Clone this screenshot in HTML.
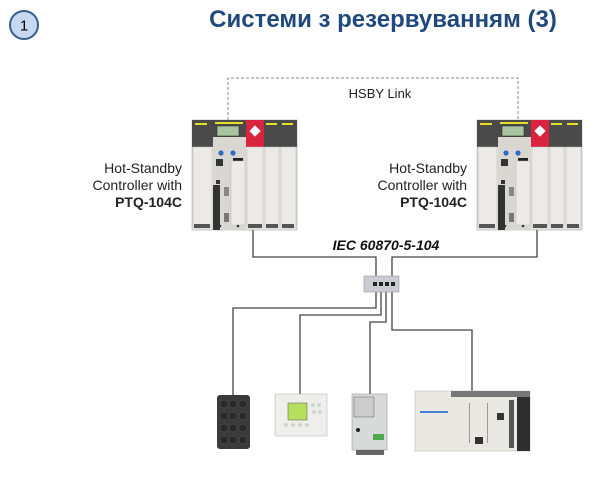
<!DOCTYPE html>
<html><head><meta charset="utf-8"><style>
html,body{margin:0;padding:0;background:#fff;width:603px;height:480px;overflow:hidden}
svg{display:block}
</style></head><body>
<svg width="603" height="480" viewBox="0 0 603 480" xmlns="http://www.w3.org/2000/svg" font-family="Liberation Sans, DejaVu Sans, sans-serif">
<defs>
<g id="ctl">
  <rect x="0" y="0" width="105" height="110" fill="#e6e4df" stroke="#aaa" stroke-width="0.6"/>
  <!-- slot1 -->
  <rect x="0" y="0" width="21" height="27" fill="#4a4a4a"/>
  <rect x="3" y="3" width="12" height="2" fill="#e4e02a"/>
  <rect x="1" y="27" width="19" height="80" fill="#eceae6" stroke="#bbb" stroke-width="0.5"/>
  <rect x="2" y="104" width="16" height="4" fill="#555"/>
  <!-- CPU slot -->
  <rect x="21" y="0" width="33" height="17" fill="#4a4a4a"/>
  <rect x="23" y="2" width="28" height="2" fill="#e4e02a"/>
  <rect x="25" y="6" width="22" height="10" fill="#a9c3a0" stroke="#333" stroke-width="0.6"/>
  <rect x="21" y="17" width="33" height="93" fill="#d9d7d2"/>
  <circle cx="29" cy="33" r="2.6" fill="#2a6cc4"/><circle cx="41" cy="33" r="2.6" fill="#2a6cc4"/>
  <rect x="24" y="39" width="7" height="7" fill="#333"/>
  <rect x="41" y="38" width="10" height="3" fill="#222"/>
  <rect x="24" y="60" width="4" height="4" fill="#333"/>
  <rect x="21" y="65" width="7" height="45" fill="#333"/>
  <rect x="32" y="67" width="5" height="9" fill="#888"/>
  <rect x="32" y="93" width="5" height="9" fill="#777"/>
  <rect x="39" y="41" width="14" height="64" fill="#ecebe7" stroke="#bbb" stroke-width="0.5"/>
  <circle cx="28" cy="106" r="1.3" fill="#333"/><circle cx="46" cy="106" r="1.3" fill="#333"/>
  <!-- red slot -->
  <rect x="54" y="0" width="18" height="27" fill="#d9233f"/>
  <rect x="59" y="7" width="8" height="8" fill="#fff" transform="rotate(45 63 11)"/>
  <rect x="55" y="27" width="16" height="80" fill="#eceae6" stroke="#bbb" stroke-width="0.5"/>
  <rect x="56" y="104" width="14" height="4" fill="#555"/>
  <!-- slot4 -->
  <rect x="72" y="0" width="16" height="27" fill="#4a4a4a"/>
  <rect x="74" y="3" width="11" height="2" fill="#e4e02a"/>
  <rect x="73" y="27" width="14" height="80" fill="#eceae6" stroke="#bbb" stroke-width="0.5"/>
  <rect x="74" y="104" width="12" height="4" fill="#555"/>
  <!-- slot5 -->
  <rect x="88" y="0" width="17" height="27" fill="#4a4a4a"/>
  <rect x="90" y="3" width="11" height="2" fill="#e4e02a"/>
  <rect x="89" y="27" width="15" height="80" fill="#eceae6" stroke="#bbb" stroke-width="0.5"/>
  <rect x="90" y="104" width="12" height="4" fill="#555"/>
</g>
</defs>

<!-- badge -->
<circle cx="24" cy="25" r="14" fill="#c6d9f1" stroke="#385d8a" stroke-width="2"/>
<text x="24" y="30.5" font-size="15" text-anchor="middle" fill="#000">1</text>
<text x="383" y="27" font-size="24" font-weight="bold" text-anchor="middle" fill="#1f497d">Системи з резервуванням (3)</text>

<!-- HSBY link -->
<path d="M228 120 V78 H518 V120" fill="none" stroke="#888" stroke-width="1" stroke-dasharray="3,2"/>
<text x="380" y="98" font-size="13" text-anchor="middle" fill="#222">HSBY Link</text>

<use href="#ctl" x="192" y="120"/>
<use href="#ctl" x="477" y="120"/>

<g font-size="14" text-anchor="end" fill="#222">
<text x="182" y="173">Hot-Standby</text>
<text x="182" y="190">Controller with</text>
<text x="182" y="207" font-weight="bold">PTQ-104C</text>
<text x="467" y="173">Hot-Standby</text>
<text x="467" y="190">Controller with</text>
<text x="467" y="207" font-weight="bold">PTQ-104C</text>
</g>

<g fill="none" stroke="#444" stroke-width="1.3">
<path d="M253 230 V257 H376 V278"/>
<path d="M392 278 V257 H537 V230"/>
<path d="M376 292 V308 H233 V396"/>
<path d="M381 292 V315 H300 V394"/>
<path d="M386 292 V322 H370 V395"/>
<path d="M392 292 V330 H472 V391"/>
</g>
<text x="386" y="250" font-size="14" font-weight="bold" font-style="italic" text-anchor="middle" fill="#111">IEC 60870-5-104</text>

<!-- switch -->
<rect x="364" y="276" width="35" height="16" fill="#c9ccd0" stroke="#999" stroke-width="0.6"/>
<g fill="#222"><rect x="373" y="282" width="4" height="4"/><rect x="379" y="282" width="4" height="4"/><rect x="385" y="282" width="4" height="4"/><rect x="391" y="282" width="4" height="4"/></g>

<!-- keypad -->
<rect x="217" y="395" width="33" height="54" rx="3" fill="#3a3a3a"/>
<g fill="#2a2a2a" stroke="#555" stroke-width="0.5">
<circle cx="224" cy="404" r="4"/><circle cx="233" cy="404" r="4"/><circle cx="243" cy="404" r="4"/>
<circle cx="224" cy="416" r="4"/><circle cx="233" cy="416" r="4"/><circle cx="243" cy="416" r="4"/>
<circle cx="224" cy="428" r="4"/><circle cx="233" cy="428" r="4"/><circle cx="243" cy="428" r="4"/>
<circle cx="224" cy="440" r="4"/><circle cx="233" cy="440" r="4"/><circle cx="243" cy="440" r="4"/>
</g>
<!-- HMI -->
<rect x="275" y="394" width="52" height="42" fill="#eeeeea" stroke="#bbb" stroke-width="0.6"/>
<rect x="288" y="403" width="19" height="17" fill="#b6df5e" stroke="#555" stroke-width="0.5"/>
<g fill="#cfd8cf"><circle cx="313" cy="405" r="2"/><circle cx="319" cy="405" r="2"/><circle cx="314" cy="412" r="2"/><circle cx="320" cy="412" r="2"/><circle cx="286" cy="425" r="2"/><circle cx="293" cy="425" r="2"/><circle cx="300" cy="425" r="2"/><circle cx="307" cy="425" r="2"/></g>
<!-- drive -->
<rect x="352" y="394" width="35" height="56" fill="#d8d9d9" stroke="#999" stroke-width="0.6"/>
<rect x="354" y="397" width="20" height="20" fill="#ccc" stroke="#666" stroke-width="0.5"/>
<circle cx="358" cy="430" r="2" fill="#222"/>
<rect x="373" y="434" width="11" height="6" fill="#4fa84f"/>
<rect x="356" y="450" width="28" height="5" fill="#666"/>
<!-- PLC -->
<rect x="415" y="391" width="115" height="60" fill="#e9e8e2" stroke="#bbb" stroke-width="0.6"/>
<rect x="451" y="391" width="79" height="6" fill="#777"/>
<rect x="420" y="411" width="28" height="2" fill="#4a7fd1"/>
<rect x="469" y="403" width="1" height="40" fill="#999"/><rect x="487" y="403" width="1" height="40" fill="#999"/>
<rect x="475" y="437" width="8" height="7" fill="#333"/>
<rect x="497" y="413" width="7" height="7" fill="#333"/>
<rect x="509" y="400" width="5" height="48" fill="#555"/>
<rect x="517" y="397" width="13" height="54" fill="#2e2e2e"/>
</svg>
</body></html>
